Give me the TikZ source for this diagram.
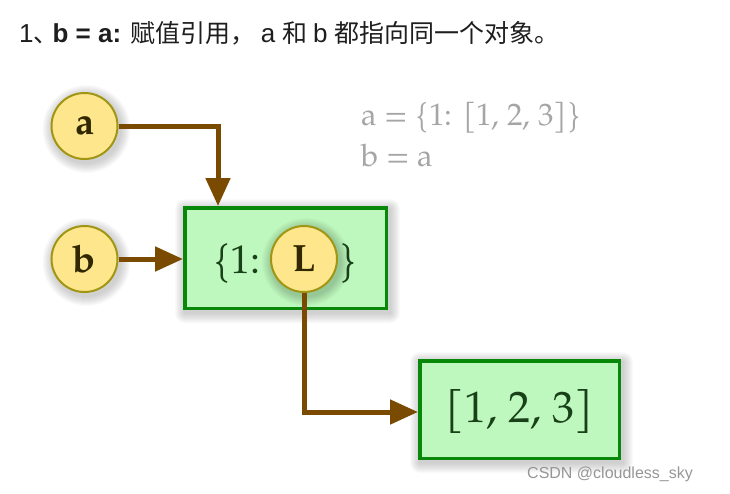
\documentclass[tikz,border=0pt]{standalone}
\usepackage{fontspec}
\newfontfamily\cjk{Noto Sans CJK SC}
\newfontfamily\arial{Liberation Sans}
\newfontfamily\pal{TeX Gyre Pagella}
\usetikzlibrary{arrows.meta,calc}
\definecolor{boxfill}{RGB}{190,248,190}
\definecolor{boxline}{RGB}{8,136,8}
\definecolor{boxtext}{RGB}{25,65,25}
\definecolor{circfill}{RGB}{253,230,140}
\definecolor{circline}{RGB}{160,150,20}
\definecolor{circtext}{RGB}{50,40,0}
\definecolor{arrcol}{RGB}{122,74,0}
\definecolor{codegray}{RGB}{165,165,165}
\definecolor{wmgray}{RGB}{150,150,150}
\definecolor{titletext}{RGB}{30,30,30}
\newcommand\latn{\arial\fontsize{26}{28}\selectfont}
\newcommand\hanz{\cjk\fontsize{25}{28}\selectfont}
\tikzset{
  circ/.style={circle, draw=circline, line width=2pt, fill=circfill, minimum size=66pt, inner sep=0pt,
    text=circtext, font=\pal\fontsize{38}{40}\selectfont\bfseries},
  objbox/.style={rectangle, draw=boxline, line width=3.5pt, fill=boxfill, inner sep=0pt, text=boxtext},
  arr/.style={draw=arrcol, line width=5pt, -{Triangle[width=24pt,length=28pt]}},
  boxlabel/.style={text=boxtext, inner sep=0pt},
  shade layer/.style={fill=black, opacity=0.018}
}
\begin{document}
\begin{tikzpicture}[x=1pt,y=-1pt]
\useasboundingbox (0,0) rectangle (730,493);
% title
\node[anchor=base west, inner sep=0pt, text=titletext] (title) at (19,42)
  {\latn 1\hanz 、\hspace{-6pt}\latn\bfseries b = a: \mdseries\hanz 赋值引用，\hspace{5pt}\latn a \hanz 和 \latn b \hanz 都指向同一个对象。};
% code
\node[anchor=base west, inner sep=0pt, text=codegray, font=\pal\fontsize{31}{34}\selectfont] (code1) at (361,125) {a = \{1: [1, 2, 3]\}};
\node[anchor=base west, inner sep=0pt, text=codegray, font=\pal\fontsize{31}{34}\selectfont] (code2) at (361,166) {b = a};
% soft shadows of boxes
\foreach \i in {1,...,10} {
  \fill[shade layer, rounded corners=\i pt] ({183+2-\i},{206+3-\i}) rectangle ({388+2+\i},{310+3+\i});
  \fill[shade layer, rounded corners=\i pt] ({418+2-\i},{359+3-\i}) rectangle ({621+2+\i},{460+3+\i});
}
% boxes
\node[objbox, minimum width=201.5pt, minimum height=100.5pt] (d) at (285.5,258) {};
\node[objbox, minimum width=199.5pt, minimum height=97.5pt] (e) at (519.5,409.5) {};
\node[boxlabel, anchor=base west, font=\pal\fontsize{40}{42}\selectfont] (dtext) at (213,273) {\{1:};
\node[boxlabel, anchor=base west, font=\pal\fontsize{40}{42}\selectfont] (dclose) at (339,273) {\}};
\node[boxlabel, font=\pal\fontsize{44}{46}\selectfont] (etext) at (519.5,411) {[1, 2, 3]};
% soft shadows of circles
\foreach \i in {1,...,10} {
  \fill[shade layer] ({84.5+2},{126+3}) circle[radius={(34+\i)*1pt}];
  \fill[shade layer] ({84.5+2},{259+3}) circle[radius={(34+\i)*1pt}];
  \fill[shade layer] ({304+2},{259+3}) circle[radius={(34+\i)*1pt}];
}
% circles
\node[circ] (a) at (84.5,126) {a};
\node[circ] (b) at (84.5,259) {b};
\node[circ] (L) at (304,259) {L};
% arrows
\draw[arr] (a.east) -| ($(d.north west)+(35,0)$);
\draw[arr] (b.east) -- (d.west |- b.east);
\draw[arr] (L.south) |- ($(e.west)+(0,2.5)$);
% watermark
\node[anchor=base west, inner sep=0pt, text=wmgray, font=\arial\fontsize{16}{18}\selectfont] (wm) at (527,478) {CSDN @cloudless\_sky};
\end{tikzpicture}
\end{document}
